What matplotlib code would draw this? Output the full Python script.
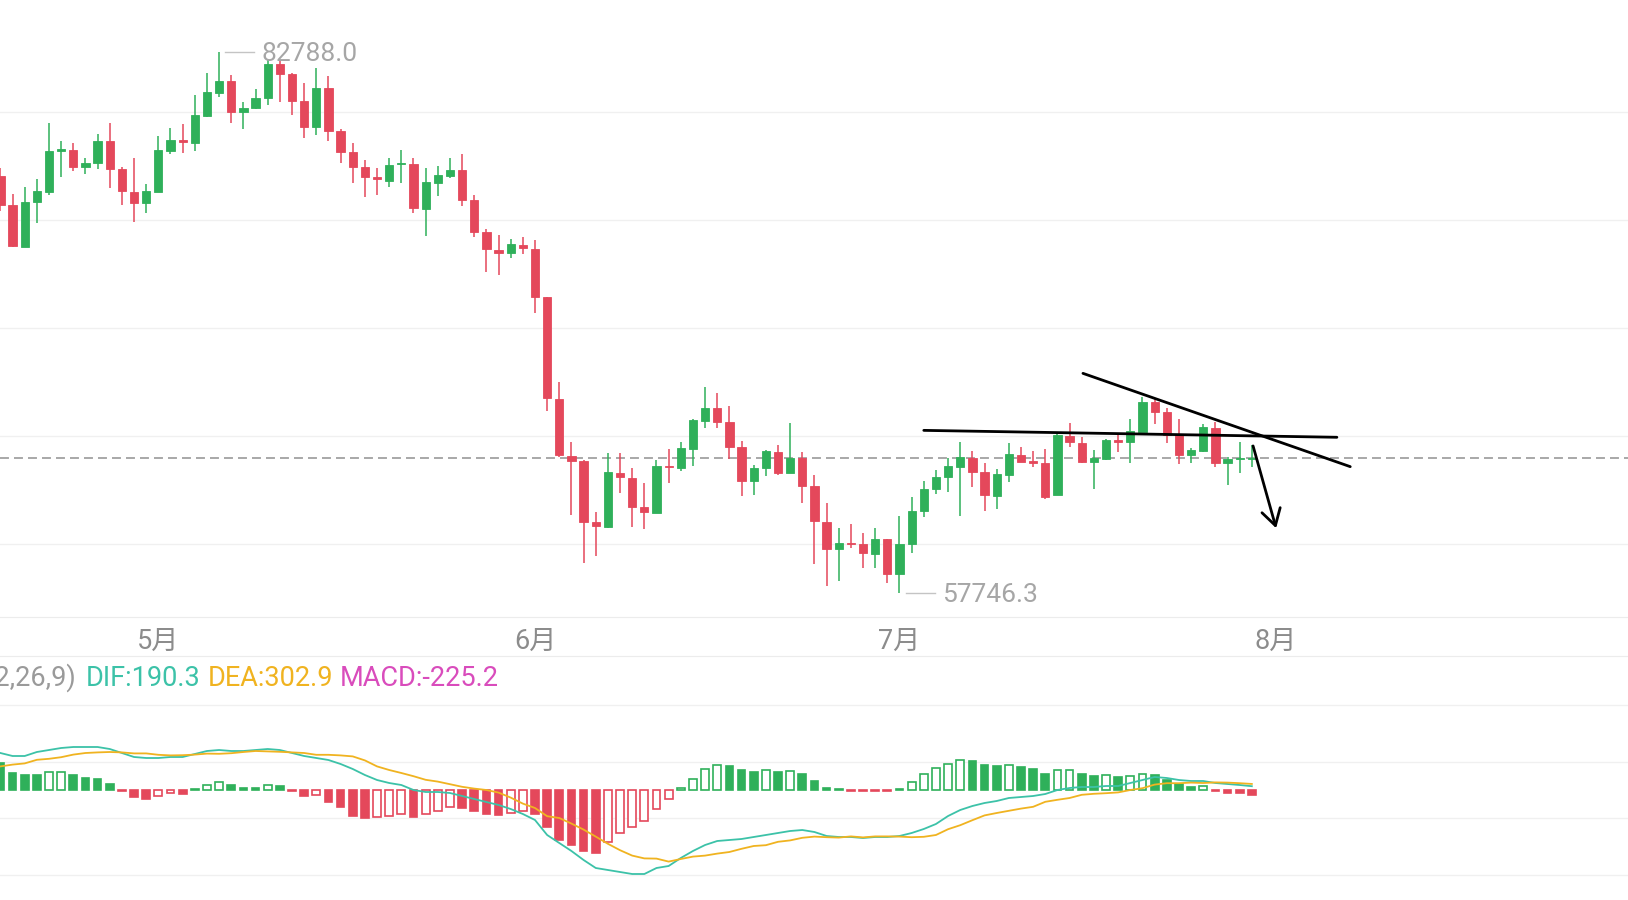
import numpy as np
import matplotlib.pyplot as plt

plt.rcParams['font.family'] = ['Roboto', 'Noto Sans CJK SC', 'DejaVu Sans']

# daily candles, index 0 is the clipped bar at the left edge
opens = [77040, 75690, 73760, 75820, 76310, 78210, 78240, 77440, 77630, 78660,
         77350, 76310, 75770, 76310, 78210, 78700, 78550, 79830, 80890, 81440,
         80010, 80170, 80660, 82220, 81750, 80510, 79320, 81100, 79130, 78130,
         77470, 77000, 76820, 77590, 77590, 75510, 76730, 77050, 77320, 75930,
         74430, 73610, 73460, 73840, 73660, 71420, 66710, 64090, 63860, 61000,
         60800, 63300, 63070, 61700, 61450, 63620, 63500, 64400, 65690, 66310,
         65660, 64480, 62930, 63500, 64270, 63270, 63970, 62680, 61030, 59770,
         60060, 59980, 59540, 60220, 58600, 59980, 61530, 62530, 63090, 63580,
         63990, 63350, 62230, 63190, 64120, 63860, 63730, 62270, 65000, 64690,
         63810, 63920, 64810, 64710, 65200, 66560, 66100, 65050, 64120, 64300,
         65360, 63730, 63930, 63950]
highs = [77410, 76200, 76540, 76880, 79480, 78660, 78550, 77860, 78970, 79480,
         77470, 77870, 76650, 78890, 79250, 79440, 80790, 81790, 82788, 81710,
         80480, 81050, 82410, 82380, 81790, 81330, 82020, 81670, 79200, 78580,
         77780, 77390, 77860, 78240, 77880, 77390, 77510, 77860, 78060, 76160,
         74570, 74310, 74120, 74230, 74070, 71420, 67490, 64740, 63890, 61490,
         64230, 64200, 63500, 62810, 63890, 64380, 64740, 65770, 67280, 66980,
         66400, 64770, 63660, 64350, 64580, 65590, 64240, 63190, 61920, 60730,
         60910, 60520, 60750, 60220, 61300, 62160, 62920, 63420, 63970, 64740,
         64300, 63730, 63460, 64690, 64480, 64300, 64380, 65200, 65590, 64970,
         64350, 64850, 65050, 65770, 66820, 66700, 66280, 65770, 64430, 65550,
         65660, 64040, 64740, 64580]
lows = [75420, 73750, 73740, 74850, 76140, 76980, 77270, 77130, 77350, 76470,
        75690, 74920, 75310, 76310, 78040, 78090, 78210, 79780, 80710, 79480,
        79200, 80130, 80320, 80480, 79860, 78780, 78940, 78670, 77650, 76700,
        76080, 76160, 76540, 76730, 75340, 74260, 76110, 76930, 75660, 74230,
        72580, 72450, 73230, 73410, 70680, 66170, 64040, 61340, 59110, 59440,
        60730, 62350, 60770, 60690, 61450, 62810, 63380, 63620, 65360, 65360,
        63920, 62220, 62270, 63160, 63190, 63270, 61880, 59070, 58070, 58300,
        59830, 58870, 58870, 58180, 57746.3, 59570, 61230, 62300, 62420, 61300,
        62650, 61530, 61620, 62880, 63810, 63580, 62070, 62270, 64480, 63730,
        62530, 63890, 64270, 63760, 65200, 65550, 64660, 63700, 63760, 64270,
        63580, 62730, 63270, 63580]
closes = [75690, 73800, 75820, 76340, 78190, 78290, 77440, 77630, 78660, 77360,
          76340, 75770, 76340, 78240, 78700, 78600, 79860, 80910, 81440, 80010,
          80200, 80660, 82220, 81760, 80510, 79320, 81130, 79130, 78160, 77470,
          77000, 76880, 77550, 77650, 75540, 76750, 77080, 77320, 75930, 74460,
          73640, 73490, 73870, 73690, 71450, 66740, 64120, 63860, 61030, 60830,
          63320, 63090, 61700, 61490, 63610, 63550, 64430, 65740, 66310, 65660,
          64500, 62930, 63530, 64300, 63270, 63990, 62700, 61060, 59770, 60060,
          59980, 59570, 60230, 58610, 60000, 61540, 62550, 63110, 63610, 64010,
          63350, 62270, 63230, 64170, 63810, 63760, 62190, 65050, 64740, 63810,
          63970, 64810, 64740, 65230, 66560, 66100, 65050, 64120, 64350, 65400,
          63730, 63920, 63990, 63970]

month_labels = ['5月', '6月', '7月', '8月']
month_pos = [13, 44, 74, 105]

# MACD(12,26,9) panel
dif = [1850, 1700, 1700, 1900, 2000, 2100, 2150, 2150, 2150, 2050,
       1850, 1650, 1600, 1600, 1650, 1650, 1800, 1950, 2000, 1950,
       1950, 2000, 2050, 2000, 1850, 1700, 1600, 1500, 1300, 1050,
       750, 500, 350, 250, 0, -100, -100, -150, -300, -450,
       -600, -750, -950, -1200, -1500, -2250, -2650, -3050, -3500, -3900,
       -4000, -4100, -4200, -4200, -3900, -3800, -3400, -3050, -2750, -2550,
       -2500, -2450, -2350, -2250, -2150, -2050, -2000, -2100, -2300, -2350,
       -2350, -2400, -2350, -2350, -2300, -2150, -1950, -1700, -1300, -1000,
       -800, -650, -550, -400, -350, -300, -200, 0, 100, 150,
       150, 200, 200, 350, 500, 650, 600, 500, 450, 450,
       350, 300, 250, 190.3]
dea = [1180, 1270, 1330, 1510, 1560, 1640, 1770, 1850, 1880, 1900,
       1880, 1830, 1830, 1760, 1730, 1740, 1770, 1820, 1810, 1840,
       1900, 1950, 1930, 1910, 1880, 1850, 1760, 1760, 1730, 1680,
       1480, 1180, 1000, 850, 690, 510, 420, 290, 160, 70,
       0, -130, -380, -680, -900, -1310, -1400, -1680, -1980, -2330,
       -2690, -3010, -3280, -3420, -3430, -3580, -3450, -3330, -3280, -3180,
       -3100, -2940, -2800, -2760, -2590, -2520, -2390, -2330, -2360, -2380,
       -2320, -2370, -2320, -2320, -2330, -2360, -2340, -2250, -1960, -1760,
       -1510, -1270, -1150, -1040, -930, -840, -590, -490, -400, -240,
       -190, -160, -120, 0, 90, 270, 340, 340, 370, 350,
       380, 370, 340, 302.9]
macd_hist = [1350, 850, 750, 750, 900, 920, 750, 590, 550, 300,
             -50, -350, -470, -300, -150, -180, 70, 250, 400, 230,
             100, 90, 250, 180, -50, -300, -260, -580, -870, -1300,
             -1420, -1330, -1300, -1200, -1370, -1200, -1030, -870, -920, -1030,
             -1200, -1250, -1130, -1030, -1200, -1830, -2500, -2750, -3050, -3130,
             -2620, -2170, -1830, -1550, -940, -430, 90, 570, 1070, 1270,
             1200, 980, 900, 1020, 880, 950, 780, 450, 120, 60,
             -60, -70, -70, -60, 60, 420, 780, 1100, 1320, 1520,
             1430, 1230, 1200, 1270, 1150, 1070, 780, 980, 1000, 780,
             680, 730, 650, 700, 820, 760, 520, 320, 150, 200,
             -60, -130, -170, -225.2]

# hand drawn marks: (bar index, price)
flat_line = [(76.0, 65260), (110.0, 64940)]
down_line = [(89.1, 67900), (111.1, 63580)]
arrow_from = (103.1, 64540)
arrow_to = (105.0, 60730)

GREEN = '#2fb05a'
RED = '#e4485b'
TEAL = '#3cc2a8'
GOLD = '#f0b320'
PINK = '#d94cbc'
GRID = '#f0f0f0'

W, H = 1628, 900
fig = plt.figure(figsize=(W / 100, H / 100), dpi=100, facecolor='white')


def rows(top, bottom):
    return [0, 1 - bottom / H, 1, (bottom - top) / H]


ax = fig.add_axes(rows(0, 617))
mx = fig.add_axes(rows(656, 900))

xlim = (-0.033, 133.96)
for a in (ax, mx):
    a.set_xlim(*xlim)
    a.set_xticks([])
    a.tick_params(left=False, labelleft=False, bottom=False)
    for s in a.spines.values():
        s.set_visible(False)
    a.set_axisbelow(True)

# ---- price panel
ax.set_ylim(56619, 85186)
ax.set_yticks([60000, 65000, 70000, 75000, 80000])
ax.grid(axis='y', color=GRID, lw=1)
ax.spines['bottom'].set_visible(True)
ax.spines['bottom'].set_color('#ececec')

x = np.arange(len(opens))
o, h, l, c = (np.array(v, dtype=float) for v in (opens, highs, lows, closes))
col = np.where(c >= o, GREEN, RED)
ax.vlines(x, l, h, colors=col, lw=1.1, zorder=2)
ax.bar(x, np.abs(c - o), bottom=np.minimum(o, c), width=0.68,
       color=col, edgecolor=col, linewidth=0.6, zorder=3)

ax.axhline(closes[-1], color='#a8a8a8', lw=1.4, ls=(0, (4.6, 2.6)), zorder=1)

hi = int(np.argmax(h))
lo = int(np.argmin(l))
for i, v in ((hi, h[hi]), (lo, l[lo])):
    ax.plot([i + 0.5, i + 2.9], [v, v], color='#c4c4c4', lw=1)
    ax.text(i + 3.5, v, f'{v:.1f}', color='#a6a6a6', fontsize=19,
            va='center_baseline', ha='left')

for p, m in zip(month_pos, month_labels):
    ax.text(p, -0.039, m, transform=ax.get_xaxis_transform(), ha='center',
            va='center', fontsize=19.5, color='#8c8c8c', clip_on=False)

# trend lines and arrow
for seg in (flat_line, down_line):
    ax.plot([seg[0][0], seg[1][0]], [seg[0][1], seg[1][1]], color='black',
            lw=2.0, solid_capstyle='round', zorder=5)
ax.annotate('', xy=arrow_to, xytext=arrow_from, zorder=5,
            arrowprops=dict(arrowstyle='->,head_length=1.15,head_width=0.68',
                            color='black', lw=2.0, shrinkA=0, shrinkB=0,
                            mutation_scale=10))

# ---- MACD panel
mx.set_ylim(-5500, 6700)
mx.set_yticks([4250, 1400, -1400, -4250])
mx.grid(axis='y', color=GRID, lw=1)
mx.spines['top'].set_visible(True)
mx.spines['top'].set_color('#ececec')

hist = np.array(macd_hist, dtype=float)
prev = np.r_[hist[0], hist[:-1]]
hcol = np.where(hist >= 0, GREEN, RED)
face = np.where(hist > prev, 'white', hcol)
mx.bar(x, hist, width=0.64, color=face, edgecolor=hcol, linewidth=1.2, zorder=2)
mx.plot(x, dif, color=TEAL, lw=1.3, zorder=3)
mx.plot(x, dea, color=GOLD, lw=1.3, zorder=3)

ty = 1 - 678 / H
fs = 19.5
fig.text(76 / W, ty, 'MACD(12,26,9)', color='#9a9a9a', fontsize=fs, ha='right', va='center')
fig.text(86 / W, ty, f'DIF:{dif[-1]:.1f}', color=TEAL, fontsize=fs, va='center')
fig.text(208 / W, ty, f'DEA:{dea[-1]:.1f}', color=GOLD, fontsize=fs, va='center')
fig.text(340 / W, ty, f'MACD:{macd_hist[-1]:.1f}', color=PINK, fontsize=fs, va='center')

fig.savefig('out.png', dpi=100, facecolor='white')
